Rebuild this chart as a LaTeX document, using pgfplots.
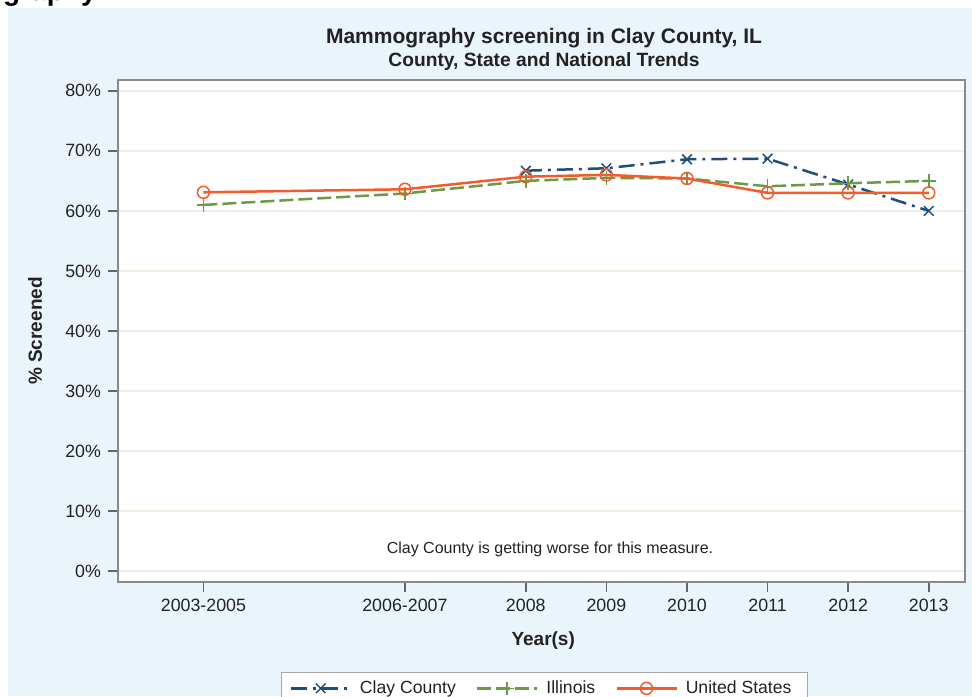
\documentclass[border=0pt]{standalone}
\usepackage{fontspec}
\setmainfont{Liberation Sans}
\usepackage{pgfplots}
\pgfplotsset{compat=1.18}

\definecolor{bgblue}{HTML}{EAF4FB}
\definecolor{clay}{HTML}{1F4E7A}
\definecolor{illinois}{HTML}{6B9B48}
\definecolor{usa}{HTML}{F25C2A}
\definecolor{gridc}{HTML}{EFEEE3}
\definecolor{framec}{HTML}{8A8A8A}
\definecolor{txt}{HTML}{222222}

\begin{document}
\begin{tikzpicture}
\clip (0pt,0pt) rectangle (486pt,348pt);
\useasboundingbox (0pt,0pt) rectangle (486pt,348pt);
\fill[white] (0pt,0pt) rectangle (486pt,348pt);
\fill[bgblue] (4pt,0pt) rectangle (486pt,344pt);
% page header cut off at the top
\node[anchor=base east, inner sep=0pt, font=\bfseries\fontsize{14}{16}\selectfont] at (48.5pt,347.5pt) {Mammography};

\begin{axis}[
  at={(59pt,57pt)}, anchor=south west,
  scale only axis, width=423.5pt, height=251pt,
  xmin=2002.94, xmax=2013.45,
  ymin=-1.8, ymax=81.8,
  clip mode=individual,
  axis background/.style={fill=white},
  axis line style={framec, line width=0.75pt},
  tick align=outside,
  xtick pos=bottom, ytick pos=left,
  major tick length=5pt,
  tick style={color=black!60, line width=0.75pt},
  xtick={2004,2006.5,2008,2009,2010,2011,2012,2013},
  xticklabels={2003-2005,2006-2007,2008,2009,2010,2011,2012,2013},
  ytick={0,10,...,80},
  yticklabel={\pgfmathprintnumber{\tick}\%},
  /pgf/number format/assume math mode=true,
  tick label style={font=\fontsize{8.9}{10}\selectfont, text=txt},
  ymajorgrids,
  major grid style={gridc, line width=0.75pt},
  xlabel={Year(s)},
  ylabel={\% Screened},
  every axis x label/.style={at={(axis description cs:0.502,-0.1175)}, anchor=center,
    font=\bfseries\fontsize{9.5}{11}\selectfont, text=txt},
  every axis y label/.style={at={(axis description cs:-0.098,0.5)}, rotate=90, anchor=center,
    font=\bfseries\fontsize{9.5}{11}\selectfont, text=txt},
  legend columns=3,
  legend style={at={(axis description cs:0.5035,-0.179)}, anchor=north,
    draw=black!35, fill=white, line width=0.6pt,
    font=\fontsize{8.8}{10}\selectfont, text=txt,
    inner xsep=4pt, inner ysep=2pt,
    nodes={inner xsep=4pt},
    /tikz/every even column/.append style={column sep=6pt}},
  legend image code/.code={
    \draw[mark repeat=2, mark phase=2] plot coordinates {(0pt,0pt) (15pt,0pt) (30pt,0pt)};
  },
]
\addplot[clay, line width=1.25pt, dash pattern=on 8pt off 3pt on 1.5pt off 3pt,
  mark=x, mark size=3.4pt, mark options={solid, line width=0.75pt}]
  coordinates {
    (2008,66.7) (2009,67.1) (2010,68.6) (2011,68.7) (2012,64.4) (2013,60.0)
  };
\addlegendentry{Clay County}

\addplot[illinois, line width=1.25pt, dash pattern=on 7pt off 2.5pt,
  mark=+, mark size=3.4pt, mark options={solid, line width=0.75pt}]
  coordinates {
    (2004,61.0) (2006.5,62.9) (2008,65.0) (2009,65.5) (2010,65.4)
    (2011,64.1) (2012,64.6) (2013,65.0)
  };
\addlegendentry{Illinois}

\addplot[usa, line width=1.25pt,
  mark=o, mark size=3pt, mark options={solid, line width=0.75pt}]
  coordinates {
    (2004,63.1) (2006.5,63.6) (2008,65.7) (2009,66.0) (2010,65.4)
    (2011,63.0) (2012,63.0) (2013,63.0)
  };
\addlegendentry{United States}

\node[anchor=base, font=\bfseries\fontsize{10.5}{12}\selectfont, text=txt]
  at (axis description cs:0.503,1.072) {Mammography screening in Clay County, IL};
\node[anchor=base, font=\bfseries\fontsize{9.6}{11}\selectfont, text=txt]
  at (axis description cs:0.503,1.026) {County, State and National Trends};
\node[anchor=base, font=\fontsize{8}{10}\selectfont, text=txt]
  at (axis cs:2008.3,3.0) {Clay County is getting worse for this measure.};
\end{axis}
\end{tikzpicture}
\end{document}
